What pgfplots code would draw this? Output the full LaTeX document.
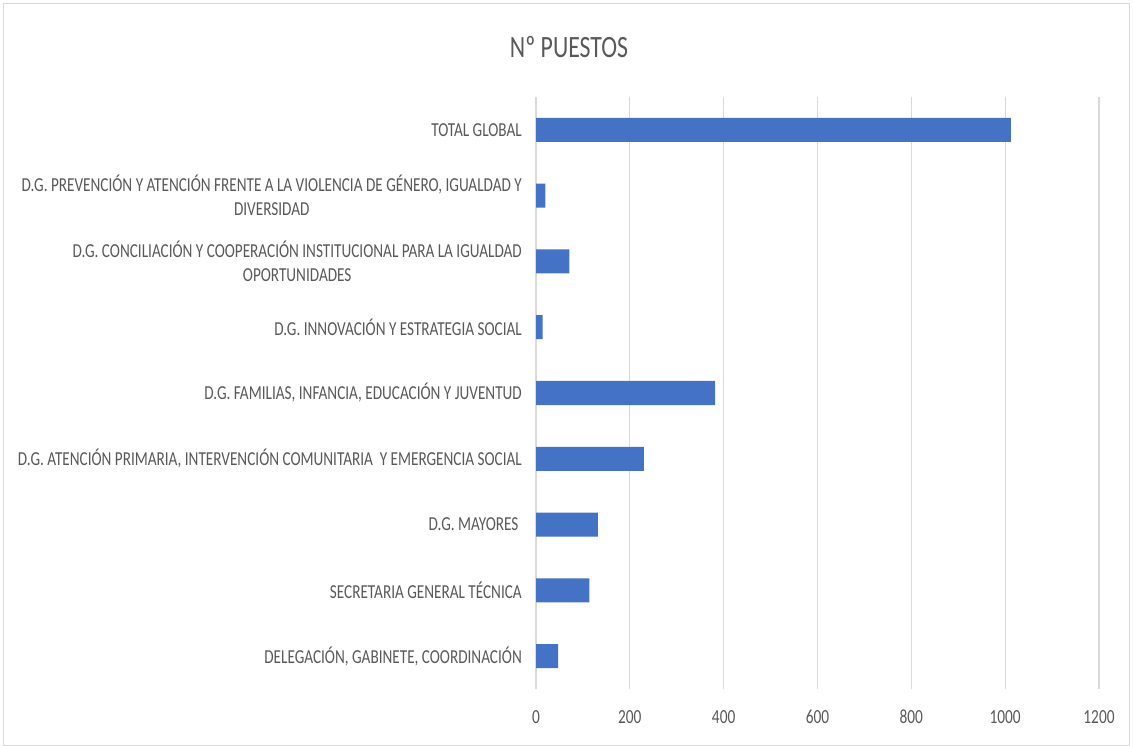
\documentclass[border=0pt]{standalone}
\usepackage{fontspec}
\setmainfont{Carlito}[FakeStretch=0.768]
\usepackage{pgfplots}
\pgfplotsset{compat=1.18}
\definecolor{barblue}{HTML}{4472C4}
\definecolor{gridgray}{HTML}{D9D9D9}
\definecolor{txtgray}{HTML}{595959}
\begin{document}
\begin{tikzpicture}[x=1bp,y=1bp]
\path[use as bounding box] (0,0) rectangle (1133,746);
\draw[gridgray, line width=1bp] (3,0.5) rectangle (1129,742);
\node[text=txtgray, font=\fontsize{31bp}{36bp}\selectfont, inner sep=0pt] at (569,699) {Nº PUESTOS};
\begin{axis}[
  at={(536bp,57bp)}, anchor=south west,
  scale only axis, width=563bp, height=592bp,
  xbar, bar width=0.365,
  xmin=0, xmax=1200, ymin=-0.5, ymax=8.5,
  xtick={0,200,...,1200}, ytick={0,...,8},
  yticklabels={
    {DELEGACIÓN, GABINETE, COORDINACIÓN},
    {SECRETARIA GENERAL TÉCNICA},
    {D.G. MAYORES\ },
    {D.G. ATENCIÓN PRIMARIA, INTERVENCIÓN COMUNITARIA\ \ Y EMERGENCIA SOCIAL},
    {D.G. FAMILIAS, INFANCIA, EDUCACIÓN Y JUVENTUD},
    {D.G. INNOVACIÓN Y ESTRATEGIA SOCIAL},
    {D.G. CONCILIACIÓN Y COOPERACIÓN INSTITUCIONAL PARA LA IGUALDAD\\OPORTUNIDADES},
    {D.G. PREVENCIÓN Y ATENCIÓN FRENTE A LA VIOLENCIA DE GÉNERO, IGUALDAD Y\\DIVERSIDAD},
    {TOTAL GLOBAL}},
  axis line style={draw=none},
  major tick length=0pt,
  xmajorgrids, ymajorgrids=false,
  major grid style={gridgray, line width=1.2bp},
  /pgf/number format/assume math mode=true,
  /pgf/number format/1000 sep={},
  xticklabel style={text=txtgray, font=\fontsize{20bp}{24bp}\selectfont, inner sep=0pt, anchor=north, yshift=-21bp},
  yticklabel style={text=txtgray, font=\fontsize{19.8bp}{24bp}\selectfont, inner sep=0pt, align=center, anchor=east, xshift=-14bp},
]
\addplot[fill=barblue, draw=none] coordinates {
  (47,0) (114,1) (132,2) (230,3) (382,4) (14,5) (71,6) (20,7) (1012,8)
};
\end{axis}
\end{tikzpicture}
\end{document}
